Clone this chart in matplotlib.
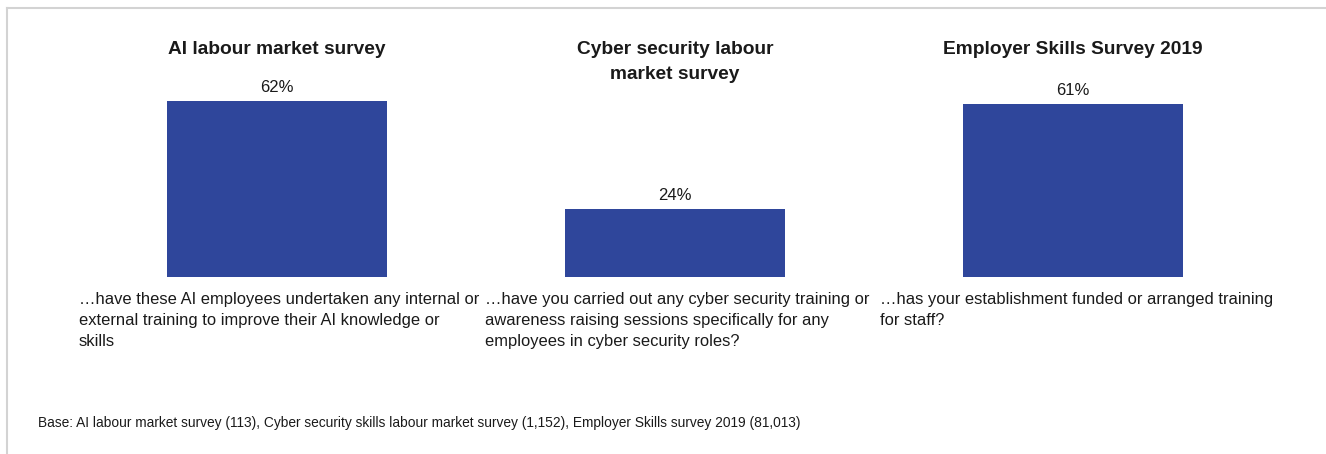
import matplotlib
matplotlib.use("Agg")
import matplotlib.pyplot as plt
import matplotlib.transforms as mtransforms
from matplotlib.lines import Line2D

plt.rcParams['font.family'] = ['Liberation Sans', 'DejaVu Sans']

# data
surveys = ["AI labour market survey",
           "Cyber security labour\nmarket survey",
           "Employer Skills Survey 2019"]
values = [62, 24, 61]
questions = ["\u2026have these AI employees undertaken any internal or\n"
             "external training to improve their AI knowledge or\nskills",
             "\u2026have you carried out any cyber security training or\n"
             "awareness raising sessions specifically for any\n"
             "employees in cyber security roles?",
             "\u2026has your establishment funded or arranged training\n"
             "for staff?"]
base_note = ("Base: AI labour market survey (113), Cyber security skills labour "
             "market survey (1,152), Employer Skills survey 2019 (81,013)")

W, H = 1326, 454
bar_color = "#2F469B"
text_color = "#1A1A1A"


def fx(px):
    return px / W


def fy(py):
    return 1 - py / H


fig = plt.figure(figsize=(W / 100, H / 100), dpi=100)

# bars: baseline at y=277px, 2.84 px per percent
ax = fig.add_axes([fx(78), fy(277), fx(1272) - fx(78), 70 * 2.84 / H])
pos = list(range(len(values)))
ax.bar(pos, values, width=0.553, color=bar_color)
ax.set_xlim(-0.5, 2.5)
ax.set_ylim(0, 70)
ax.axis("off")

for x, v in zip(pos, values):
    ax.annotate(f"{v}%", (x, v), xytext=(0, 4), textcoords="offset points",
                ha="center", va="bottom", fontsize=12, color=text_color)

# titles above each bar
trans = mtransforms.blended_transform_factory(ax.transData, fig.transFigure)
for x, t in zip(pos, surveys):
    ax.text(x, fy(41), t, transform=trans, ha="center", va="top",
            fontsize=13.8, fontweight="bold", color=text_color,
            multialignment="center", linespacing=1.6)

# question text under each bar
q_left = [79, 485, 880]
for xl, q in zip(q_left, questions):
    fig.text(fx(xl), fy(292), q, ha="left", va="top", fontsize=11.9,
             color=text_color, linespacing=1.5)

fig.text(fx(38), fy(423), base_note, ha="left", va="center", fontsize=9.9,
         color=text_color)

# light frame on top and left
fig.add_artist(Line2D([fx(7), fx(7)], [0, fy(8)], color="#D3D3D3", lw=1.5))
fig.add_artist(Line2D([fx(7), 1], [fy(8), fy(8)], color="#D3D3D3", lw=1.5))

plt.savefig("out.png", dpi=100)
